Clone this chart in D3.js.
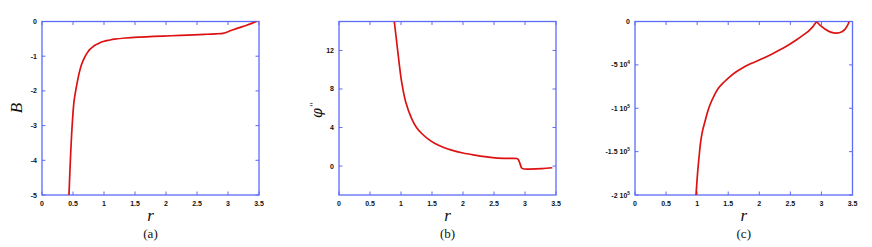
<!DOCTYPE html>
<html><head><meta charset="utf-8">
<script src="https://cdn.jsdelivr.net/npm/d3@7"></script>
<style>body{margin:0;background:#fff}svg{display:block}</style>
</head><body>
<svg id="c" width="872" height="247"></svg>
<script>
// x ticks shared
const xTicks = [0, 0.5, 1, 1.5, 2, 2.5, 3, 3.5];

// Panel (a): B(r)
const rA = [0.435,0.457,0.484,0.516,0.545,0.570,0.60,0.634,0.665,0.70,0.742,0.78,0.82,0.86,0.903,0.95,1.0,1.08,1.172,1.35,1.548,1.8,2.086,2.35,2.624,2.80,2.919,3.05,3.16,3.30,3.43,3.46];
const bA = [-5,-4.03,-3.07,-2.31,-1.98,-1.74,-1.48,-1.26,-1.12,-0.99,-0.87,-0.79,-0.73,-0.68,-0.64,-0.60,-0.57,-0.54,-0.51,-0.475,-0.45,-0.43,-0.41,-0.39,-0.37,-0.355,-0.34,-0.26,-0.19,-0.11,-0.02,0];
const yTicksA = [0,-1,-2,-3,-4,-5];

// Panel (b): phi''(r)
const rB = [0.892,0.930,0.968,1.011,1.076,1.172,1.25,1.334,1.44,1.548,1.68,1.817,2.0,2.19,2.35,2.516,2.75,2.866,2.89,2.908,2.93,2.946,2.97,3.05,3.27,3.44];
const pB = [15,12.9,10.8,8.7,6.65,4.93,4.0,3.38,2.8,2.34,1.95,1.65,1.36,1.14,0.98,0.86,0.8,0.79,0.7,0.45,0.05,-0.2,-0.28,-0.31,-0.27,-0.17];
const yTicksB = [0,4,8,12];

// Panel (c)
const rC = [0.982,1.009,1.035,1.058,1.09,1.127,1.165,1.207,1.27,1.341,1.43,1.529,1.63,1.743,1.9,2.064,2.2,2.333,2.47,2.601,2.70,2.788,2.86,2.923,2.97,3.056,3.15,3.244,3.33,3.378,3.42,3.448];
const vC = [-200000,-173000,-153000,-138000,-125000,-115000,-105000,-96000,-86000,-77000,-70000,-63500,-58000,-53000,-47500,-42300,-37700,-32700,-27000,-21000,-16000,-11300,-6200,-800,-3800,-8600,-12300,-13400,-11800,-9000,-4500,0];
const yTicksC = [0,-50000,-100000,-150000,-200000];
const yTickLabelsC = [["0",""],["-5 10","4"],["-1 10","5"],["-1.5 10","5"],["-2 10","5"]];

const svg = d3.select("#c");
const AX = "#5a6cf8", RED = "#dd1111";
const TOP = 21.5, BOT = 195;

function panel(id, left, right, xs, ys, ydom, yticks, ylabels, letter, ylab) {
  const x = d3.scaleLinear().domain([0,3.5]).range([left,right]);
  const y = d3.scaleLinear().domain(ydom).range([BOT,TOP]);
  const g = svg.append("g");
  g.append("clipPath").attr("id","clip"+id).append("rect")
    .attr("x",left).attr("y",TOP).attr("width",right-left).attr("height",BOT-TOP);
  const tl = 3.5;
  xTicks.forEach(t => {
    g.append("line").attr("x1",x(t)).attr("x2",x(t)).attr("y1",BOT).attr("y2",BOT-tl).attr("stroke",AX);
    g.append("line").attr("x1",x(t)).attr("x2",x(t)).attr("y1",TOP).attr("y2",TOP+tl).attr("stroke",AX);
    g.append("text").attr("x",x(t)).attr("y",206.3).attr("text-anchor","middle")
      .attr("font-family","Liberation Sans, Arial, sans-serif").attr("font-weight","bold")
      .attr("font-size",7).attr("fill","#111").text(String(t));
  });
  yticks.forEach((t,i) => {
    g.append("line").attr("x1",left).attr("x2",left+tl).attr("y1",y(t)).attr("y2",y(t)).attr("stroke",AX);
    g.append("line").attr("x1",right).attr("x2",right-tl).attr("y1",y(t)).attr("y2",y(t)).attr("stroke",AX);
    const lab = ylabels[i];
    const tx = g.append("text").attr("x",left-5).attr("y",y(t)+2.5).attr("text-anchor","end")
      .attr("font-family","Liberation Sans, Arial, sans-serif").attr("font-weight","bold")
      .attr("font-size",7).attr("fill","#111");
    if (Array.isArray(lab)) {
      tx.append("tspan").text(lab[0]);
      if (lab[1]) tx.append("tspan").attr("dy",-3).attr("font-size",4.8).text(lab[1]);
    } else tx.text(lab);
  });
  g.append("rect").attr("x",left).attr("y",TOP).attr("width",right-left).attr("height",BOT-TOP)
    .attr("fill","none").attr("stroke",AX).attr("stroke-width",1.3);
  const line = d3.line().x(d=>x(d[0])).y(d=>y(d[1])).curve(d3.curveCatmullRom.alpha(0.5));
  g.append("path").datum(xs.map((r,i)=>[r,ys[i]])).attr("d",line)
    .attr("fill","none").attr("stroke",RED).attr("stroke-width",1.7)
    .attr("clip-path","url(#clip"+id+")");
  const cx = (left+right)/2;
  g.append("text").attr("x",cx).attr("y",221).attr("text-anchor","middle")
    .attr("font-family","Liberation Serif, Times New Roman, serif").attr("font-style","italic")
    .attr("font-size",17).attr("fill","#111").text("r");
  g.append("text").attr("x",cx).attr("y",238).attr("text-anchor","middle")
    .attr("font-family","Liberation Serif, Times New Roman, serif")
    .attr("font-size",13).attr("fill","#111").text(letter);
  if (ylab) ylab(g);
}

panel("a",42,259,rA,bA,[-5,0],yTicksA,yTicksA.map(String),"(a)", g => {
  g.append("text").attr("transform","translate(22,108) rotate(-90)").attr("text-anchor","middle")
    .attr("font-family","Liberation Serif, Times New Roman, serif").attr("font-style","italic")
    .attr("font-size",17).attr("fill","#111").text("B");
});
panel("b",339,556,rB,pB,[-3,15],yTicksB,yTicksB.map(String),"(b)", g => {
  const t = g.append("text").attr("transform","translate(322,110) rotate(-90)").attr("text-anchor","middle")
    .attr("font-family","DejaVu Serif, serif").attr("font-style","italic")
    .attr("font-size",14).attr("fill","#111");
  t.append("tspan").text("\u03C6");
  t.append("tspan").attr("dx",1).attr("dy",-5).attr("font-size",9).attr("font-style","normal").text("''");
});
panel("c",635,852.5,rC,vC,[-200000,0],yTicksC,yTickLabelsC,"(c)", null);
</script>
</body></html>
